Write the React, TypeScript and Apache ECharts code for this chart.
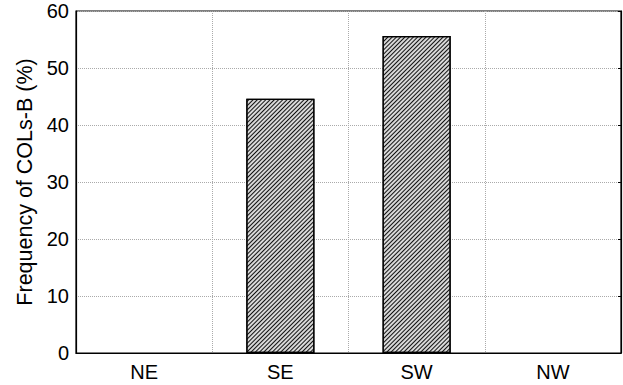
import React, { useEffect, useRef } from "react";
import * as echarts from "echarts";

const categories = ["NE", "SE", "SW", "NW"];
const frequency = [0, 44.6, 55.6, 0];
const yTicks = [0, 10, 20, 30, 40, 50, 60];

export default function App() {
  const ref = useRef<HTMLDivElement>(null);
  useEffect(() => {
    document.body.style.margin = "0";
    const chart = echarts.init(ref.current!, null, { renderer: "svg" });
    const font = "Liberation Sans, Arial, Helvetica, sans-serif";
    chart.setOption({
      animation: false,
      backgroundColor: "#fff",
      grid: {
        left: 76,
        right: 2,
        top: 11,
        bottom: 32,
        show: true,
        borderColor: "#000",
        borderWidth: 1.2,
        backgroundColor: "transparent",
      },
      xAxis: {
        type: "category",
        data: categories,
        boundaryGap: true,
        axisLine: { show: true, lineStyle: { color: "#000", width: 1.2 } },
        axisTick: { show: false },
        axisLabel: { color: "#000", fontSize: 20, fontFamily: font, margin: 9 },
        splitLine: {
          show: true,
          lineStyle: { color: "#aaa", type: [1, 1], width: 1 },
        },
      },
      yAxis: [
        {
          type: "value",
          min: yTicks[0],
          max: yTicks[yTicks.length - 1],
          interval: 10,
          name: "Frequency of COLs-B (%)",
          nameLocation: "middle",
          nameGap: 38,
          nameTextStyle: { color: "#000", fontSize: 21.5, fontFamily: font },
          axisLine: { show: true, lineStyle: { color: "#000", width: 1.2 } },
          axisTick: { show: false },
          axisLabel: { color: "#000", fontSize: 20, fontFamily: font, margin: 7 },
          splitLine: {
            show: true,
            lineStyle: { color: "#aaa", type: [1, 1], width: 1 },
          },
        },
        {
          type: "value",
          position: "right",
          min: yTicks[0],
          max: yTicks[yTicks.length - 1],
          interval: 10,
          axisLine: { show: true, lineStyle: { color: "#000", width: 1.2 } },
          axisTick: { show: true, inside: true, length: 3, lineStyle: { color: "#000" } },
          axisLabel: { show: false },
          splitLine: { show: false },
        },
      ],
      series: [
        {
          type: "bar",
          data: frequency.map((v) =>
            v === 0 ? { value: v, itemStyle: { borderWidth: 0, opacity: 0 } } : v
          ),
          barWidth: "50%",
          yAxisIndex: 0,
          itemStyle: {
            color: "#d8d8d8",
            borderColor: "#000",
            borderWidth: 1.2,
            decal: {
              symbol: "rect",
              color: "#111",
              backgroundColor: "#ffffff",
              dashArrayX: [1, 0],
              dashArrayY: [1, 2],
              rotation: -Math.PI / 4,
              symbolSize: 1,
            },
          },
        },
      ],
    });
    return () => chart.dispose();
  }, []);
  return <div ref={ref} style={{ width: 623, height: 385 }} />;
}
